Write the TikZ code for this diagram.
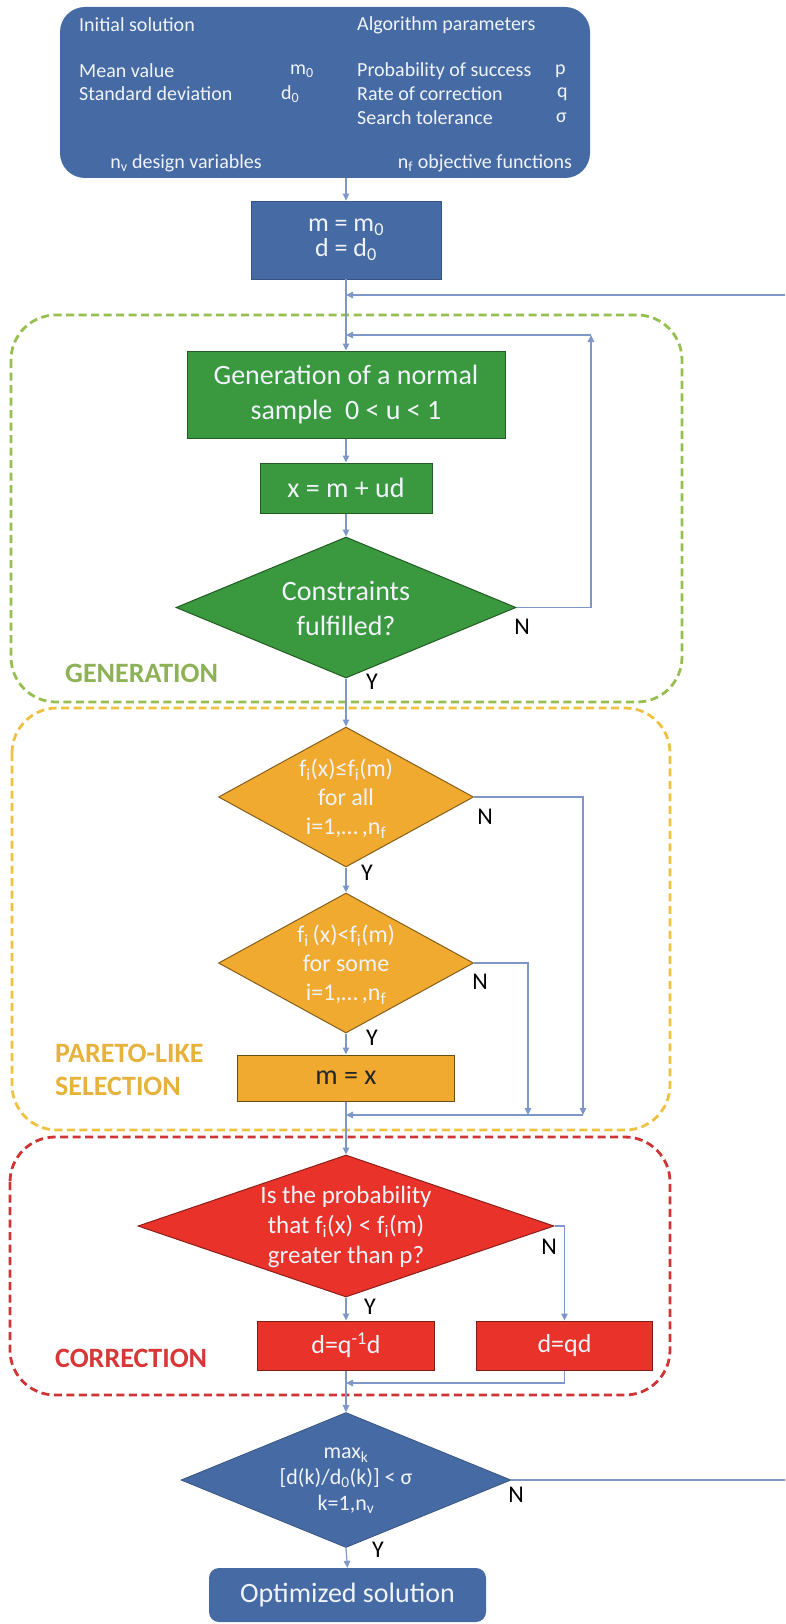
\documentclass[tikz,border=0pt]{standalone}
\usepackage{fontspec}
\setmainfont{Carlito}
\usetikzlibrary{shapes.geometric,arrows.meta}
\definecolor{boxblue}{RGB}{70,106,163}
\definecolor{boxgreen}{RGB}{58,152,62}
\definecolor{boxyellow}{RGB}{240,170,48}
\definecolor{boxred}{RGB}{233,50,42}
\definecolor{lineblue}{RGB}{125,152,200}
\definecolor{dgreen}{RGB}{150,190,80}
\definecolor{dyellow}{RGB}{238,194,64}
\definecolor{dred}{RGB}{208,52,52}
\definecolor{lgreen}{RGB}{140,178,85}
\definecolor{lgold}{RGB}{230,178,60}
\definecolor{lred}{RGB}{215,55,55}
\definecolor{txtw}{RGB}{240,244,250}
\begin{document}
\begin{tikzpicture}[x=1pt,y=-1pt,
  conn/.style={draw=lineblue,line width=1.2pt},
  arr/.style={conn,-{Triangle[length=7pt,width=6.5pt]}},
  grp/.style={dash pattern=on 8pt off 4.5pt,line width=2.8pt,rounded corners=45pt},
  bbox/.style={rectangle,inner sep=0pt,align=center,text=txtw},
  dia/.style={diamond,inner sep=0pt},
  tw/.style={text=txtw,font=\fontsize{20}{23.5}\selectfont,inner sep=0pt},
  dtext/.style={text=txtw,inner sep=0pt,align=center},
  yn/.style={font=\fontsize{24}{28}\selectfont,text=black,inner sep=0pt},
  glab/.style={font=\bfseries\fontsize{28}{28}\selectfont,inner sep=0pt,align=left,anchor=west}
]
\useasboundingbox (0,0) rectangle (785,1624);
\clip (0,0) rectangle (785,1624);

% group frames
\draw[grp,draw=dgreen] (11,315) rectangle (682,702);
\draw[grp,draw=dyellow] (12,708) rectangle (670,1130);
\draw[grp,draw=dred] (10,1137) rectangle (670,1395);

% top box
\node[bbox,fill=boxblue,rounded corners=25pt,minimum width=530pt,minimum height=171pt] (init) at (325,92.5) {};
\node[tw,anchor=west] (i1) at (79,25) {Initial solution};
\node[tw,anchor=west] (i2) at (357,25) {Algorithm parameters};
\node[tw,anchor=west] (i3) at (79,71) {Mean value};
\node[tw,anchor=west] (i4) at (79,94) {Standard deviation};
\node[tw,anchor=west] (i5) at (290,71) {m\textsubscript{0}};
\node[tw,anchor=west] (i6) at (281,94) {d\textsubscript{0}};
\node[tw,anchor=west] (i7) at (357,71) {Probability of success};
\node[tw,anchor=west] (i8) at (357,94) {Rate of correction};
\node[tw,anchor=west] (i9) at (357,118) {Search tolerance};
\node[tw,anchor=west] (i10) at (555,71) {p};
\node[tw,anchor=west] (i11) at (557,94) {q};
\node[tw,anchor=west] (i12) at (556,118) {σ};
\node[tw] (i13) at (186,163) {n\textsubscript{v} design variables};
\node[tw] (i14) at (485,163) {n\textsubscript{f} objective functions};

% m = m0 box
\node[bbox,fill=boxblue,draw=boxblue!80!black,line width=0.8pt,minimum width=190pt,minimum height=78pt,font=\fontsize{26}{25}\selectfont] (b2) at (346,240) {m = m\textsubscript{0}\\d = d\textsubscript{0}};

% generation
\node[bbox,fill=boxgreen,draw=boxgreen!60!black,line width=1pt,minimum width=318pt,minimum height=87pt,font=\fontsize{28}{35}\selectfont] (g1) at (346,394.5) {Generation of a normal\\sample~ 0 < u < 1};
\node[bbox,fill=boxgreen,draw=boxgreen!60!black,line width=1pt,minimum width=172pt,minimum height=50pt,font=\fontsize{28}{35}\selectfont] (g2) at (346,488) {x = m + ud};
\node[dia,fill=boxgreen,draw=boxgreen!60!black,line width=1pt,minimum width=340pt,minimum height=141pt] (d1) at (346,607.5) {};
\node[dtext,font=\fontsize{28}{35}\selectfont] (d1t) at (346,608) {Constraints\\fulfilled?};
\node[yn] (n1) at (522,627) {N};
\node[yn] (y1l) at (372,682) {Y};
\node[glab,text=lgreen] (lab1) at (65,673) {GENERATION};

% pareto
\node[dia,fill=boxyellow,draw=boxyellow!55!black,line width=1pt,minimum width=255pt,minimum height=140pt] (p1) at (346,797) {};
\node[dtext,font=\fontsize{24}{29}\selectfont] (p1t) at (346,799) {f\textsubscript{i}(x)≤f\textsubscript{i}(m)\\for all\\i=1,…\,,n\textsubscript{f}};
\node[dia,fill=boxyellow,draw=boxyellow!55!black,line width=1pt,minimum width=255pt,minimum height=140pt] (p2) at (346,963) {};
\node[dtext,font=\fontsize{24}{29}\selectfont] (p2t) at (346,965) {f\textsubscript{i}\,(x)<f\textsubscript{i}(m)\\for some\\i=1,…\,,n\textsubscript{f}};
\node[bbox,fill=boxyellow,draw=boxyellow!45!black,line width=1pt,minimum width=217pt,minimum height=46pt,text=black!85,font=\fontsize{28}{35}\selectfont] (pm) at (346,1078) {m = x};
\node[yn] (n2) at (485,817) {N};
\node[yn] (y2l) at (367,873) {Y};
\node[yn] (n3) at (480,982) {N};
\node[yn] (y3l) at (372,1038) {Y};
\node[glab,text=lgold,font=\bfseries\fontsize{28}{33}\selectfont] (lab2) at (55,1070) {PARETO-LIKE\\SELECTION};

% correction
\node[dia,fill=boxred,draw=boxred!60!black,line width=1pt,minimum width=416pt,minimum height=142pt] (r1) at (346,1226) {};
\node[dtext,font=\fontsize{25}{30}\selectfont] (r1t) at (346,1227) {Is the probability\\that f\textsubscript{i}(x) < f\textsubscript{i}(m)\\greater than p?};
\node[bbox,fill=boxred,draw=boxred!55!black,line width=1pt,minimum width=177pt,minimum height=49pt,font=\fontsize{26}{30}\selectfont] (rb1) at (346,1345.5) {d=q\textsuperscript{-1}d};
\node[bbox,fill=boxred,draw=boxred!55!black,line width=1pt,minimum width=176pt,minimum height=49pt,font=\fontsize{26}{30}\selectfont] (rb2) at (564.5,1345.5) {d=qd};
\node[yn] (n4) at (549,1247) {N};
\node[yn] (y4l) at (370,1307) {Y};
\node[glab,text=lred] (lab3) at (55,1358) {CORRECTION};

% stop test
\node[dia,fill=boxblue,draw=boxblue!80!black,line width=0.8pt,minimum width=330pt,minimum height=135pt] (s1) at (346,1480) {};
\node[dtext,font=\fontsize{22}{26}\selectfont] (s1t) at (346,1481) {max\textsubscript{k}\\{}[d(k)/d\textsubscript{0}(k)] < σ\\k=1,n\textsubscript{v}};
\node[yn] (n5) at (516,1495) {N};
\node[yn] (y5l) at (378,1550) {Y};
\node[bbox,fill=boxblue,rounded corners=10pt,minimum width=277pt,minimum height=54pt,font=\fontsize{28}{35}\selectfont] (opt) at (347.5,1595) {Optimized solution};

% helper coordinates
\coordinate (fbR) at (795,295);
\coordinate (fbA) at (346,295);
\coordinate (lpC) at (591,335);
\coordinate (lpA) at (346,335);
\coordinate (c1) at (583,1115);
\coordinate (c2) at (528,1115);
\coordinate (c3) at (346,1115);
\coordinate (c4) at (346,1383);

% main flow
\draw[arr] (init.south -| b2.north) -- (b2.north);
\draw[arr] (b2.south) -- (g1.north);
\draw[arr] (g1.south) -- (g2.north);
\draw[arr] (g2.south) -- (d1.north);
\draw[arr] (d1.south) -- (p1.north);
\draw[arr] (p1.south) -- (p2.north);
\draw[arr] (p2.south) -- (pm.north);
\draw[arr] (pm.south) -- (r1.north);
\draw[arr] (r1.south) -- (rb1.north);
\draw[arr] (rb1.south) -- (s1.north);
\draw[arr] (s1.south) -- (opt.north);

% loops
\draw[arr] (d1.east) -| (lpC);
\draw[arr] (lpC) -- (lpA);
\draw[arr] (p1.east) -| (c1);
\draw[arr] (p2.east) -| (c2);
\draw[arr] (c1) -- (c3);
\draw[arr] (r1.east) -| (rb2.north);
\draw[arr] (rb2.south) |- (c4);
\draw[arr] (s1.east) -| (fbR) -- (fbA);
\end{tikzpicture}
\end{document}
